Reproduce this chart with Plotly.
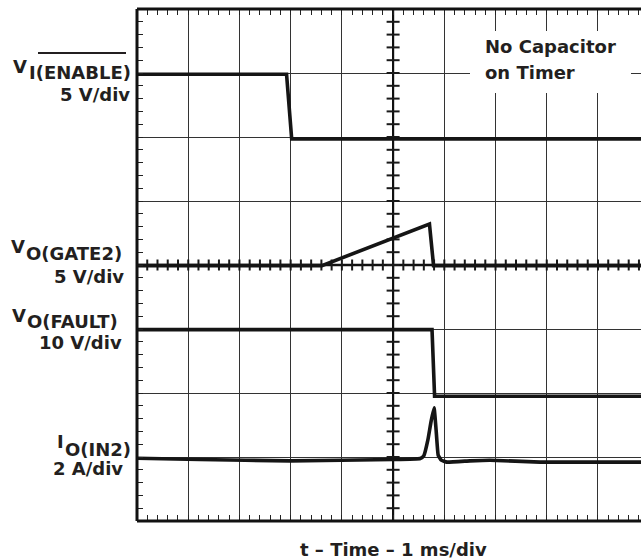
import plotly.graph_objects as go

# ---------------- data (in screen divisions: x = ms, y = div from bottom) ----
t_enable = [0.0, 2.92, 3.02, 9.84]
v_enable = [6.98, 6.98, 5.97, 5.97]

t_gate2 = [0.0, 3.61, 5.71, 5.79, 9.84]
v_gate2 = [3.99, 3.99, 4.64, 3.99, 3.99]

t_fault = [0.0, 5.76, 5.81, 9.84]
v_fault = [2.99, 2.99, 1.95, 1.95]

t_in2 = [0.0, 1.23, 2.99, 5.0, 5.53, 5.60, 5.68, 5.74, 5.80, 5.84, 5.88, 5.94, 6.05, 6.50, 6.89, 7.87, 9.84]
i_in2 = [0.98, 0.96, 0.94, 0.96, 0.977, 1.02, 1.27, 1.55, 1.77, 1.42, 1.03, 0.95, 0.92, 0.94, 0.95, 0.92, 0.92]

x_range = [0, 9.84]
y_range = [0, 8]

# ---------------- geometry helpers ----------------
W, H = 641, 559
ML, MR, MT, MB = 137, 0, 9, 38
PW, PH = W - ML - MR, H - MT - MB
XDIV = PW / (x_range[1] - x_range[0])   # px per horizontal division
YDIV = PH / (y_range[1] - y_range[0])   # px per vertical division


def px(x):
    return (x - ML) / PW


def py(y):
    return (H - MB - y) / PH


FONT = "DejaVu Sans"
TXT = "#231f20"
LINE = "#151515"

fig = go.Figure()

# ---- graticule centre lines with their minor ticks (error-bar ticks) ----
xc, yc = 5.0, 4.0
h_ticks = [round(i * 0.2, 3) for i in range(1, 50)]
v_ticks = [round(i * 0.2, 3) for i in range(1, 40)]
dy = round(5.5 / YDIV, 4)
dx = round(6.5 / XDIV, 4)

fig.add_trace(go.Scatter(x=[0.0, x_range[1]], y=[yc, yc], mode="lines", hoverinfo="skip",
                         line=dict(color="#111", width=2.4)))
fig.add_trace(go.Scatter(x=[xc, xc], y=[0.0, y_range[1]], mode="lines", hoverinfo="skip",
                         line=dict(color="#111", width=2.2)))
fig.add_trace(go.Scatter(x=h_ticks, y=[yc] * len(h_ticks), mode="markers", hoverinfo="skip",
                         marker=dict(size=1, color="rgba(0,0,0,0)"),
                         error_y=dict(type="constant", value=dy, width=0, thickness=2,
                                      color="#1a1a1a")))
fig.add_trace(go.Scatter(x=[xc] * len(v_ticks), y=v_ticks, mode="markers", hoverinfo="skip",
                         marker=dict(size=1, color="rgba(0,0,0,0)"),
                         error_x=dict(type="constant", value=dx, width=0, thickness=2,
                                      color="#1a1a1a")))

for tx, ty, sh, sm in [(t_enable, v_enable, "linear", 0), (t_gate2, v_gate2, "linear", 0),
                       (t_fault, v_fault, "linear", 0), (t_in2, i_in2, "spline", 0.3)]:
    fig.add_trace(go.Scatter(x=tx, y=ty, mode="lines", hoverinfo="skip",
                             line=dict(color=LINE, width=3.6, shape=sh, smoothing=sm)))

shapes = []
# border
for s in [dict(x0=0, x1=0, y0=0, y1=1), dict(x0=0, x1=1, y0=1, y1=1), dict(x0=0, x1=1, y0=0, y1=0)]:
    shapes.append(dict(type="line", xref="paper", yref="paper", line=dict(color="#111", width=3),
                       layer="above", **s))
# white box behind note
shapes.append(dict(type="rect", xref="paper", yref="paper", x0=px(470), x1=px(631),
                   y0=py(93), y1=py(31), fillcolor="white", line=dict(width=0), layer="above"))
# overline over ENABLE
shapes.append(dict(type="line", xref="paper", yref="paper", x0=px(38), x1=px(126),
                   y0=py(53), y1=py(53), line=dict(color=TXT, width=2.2)))

ann = []


def label(text, x, y, anchor):
    ann.append(dict(text=text, xref="paper", yref="paper", x=px(x), y=py(y),
                    xanchor=anchor, yanchor="middle", showarrow=False,
                    font=dict(family=FONT, size=18, color=TXT, weight="bold")))


# left labels
label("V", 11, 66, "left")
label("I(ENABLE)", 27, 72.5, "left")
label("5 V/div", 132, 94.5, "right")

label("V", 9, 246, "left")
label("O(GATE2)", 24, 253.5, "left")
label("5 V/div", 126, 276, "right")

label("V", 10, 315.5, "left")
label("O(FAULT)", 25, 321.5, "left")
label("10 V/div", 124, 342.5, "right")

label("I", 55, 441, "left")
label("O(IN2)", 63, 449.5, "left")
label("2 A/div", 125, 468.5, "right")

# note
label("No Capacitor", 483, 46, "left")
label("on Timer", 483, 72.5, "left")

# x-axis title
label("t \u2013 Time \u2013 1 ms/div", 393, 549, "center")

fig.update_layout(
    width=W, height=H,
    margin=dict(l=ML, r=MR, t=MT, b=MB),
    paper_bgcolor="white", plot_bgcolor="white",
    showlegend=False,
    shapes=shapes, annotations=ann,
    xaxis=dict(range=x_range, dtick=1, tick0=0, showgrid=True, gridcolor="#333", gridwidth=1.3,
               zeroline=False, showline=False, showticklabels=False, mirror="allticks",
               ticks="inside", ticklen=6, tickwidth=1.4, tickcolor="#222",
               minor=dict(dtick=0.2, tick0=0, ticks="inside", ticklen=6, tickwidth=1.4,
                          tickcolor="#222", showgrid=False),
               fixedrange=True),
    yaxis=dict(range=y_range, dtick=1, tick0=0, showgrid=True, gridcolor="#333", gridwidth=1.3,
               zeroline=False, showline=False, showticklabels=False, mirror=False,
               ticks="inside", ticklen=6, tickwidth=1.4, tickcolor="#222",
               minor=dict(dtick=0.2, tick0=0, ticks="inside", ticklen=6, tickwidth=1.4,
                          tickcolor="#222", showgrid=False),
               fixedrange=True),
)

fig.write_html("out.html", config={"displayModeBar": False},
               post_script="document.body.style.margin='0px';document.body.style.padding='0px';")
